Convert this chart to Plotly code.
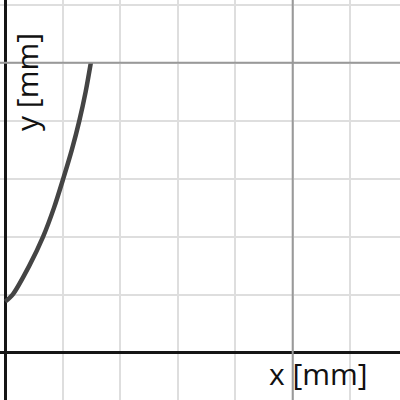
import plotly.graph_objects as go

# curve (mm)
curve_x = [0, 0.13, 0.42, 0.66, 0.85, 1.01, 1.16, 1.29, 1.40, 1.49]
curve_y = [0.88, 1.0, 1.5, 2.0, 2.5, 3.0, 3.5, 4.0, 4.5, 5.0]

# reference lines
ref_x = 5
ref_y = 5

x_range = [-0.09, 6.866]
y_range = [-0.817, 6.08]

fig = go.Figure(go.Scatter(
    x=curve_x, y=curve_y, mode="lines",
    line=dict(color="#444444", width=4.5, shape="spline", smoothing=0.8),
    hoverinfo="skip",
))

fig.add_shape(type="line", xref="x", yref="paper", x0=ref_x, x1=ref_x, y0=0, y1=1,
              line=dict(color="#999999", width=2), layer="above")
fig.add_shape(type="line", xref="paper", yref="y", x0=0, x1=1, y0=ref_y, y1=ref_y,
              line=dict(color="#999999", width=2), layer="above")

axis = dict(showticklabels=False, ticks="", dtick=1, showgrid=True,
            gridcolor="#dedede", gridwidth=1.5, zeroline=True,
            zerolinecolor="#151515", zerolinewidth=3, showline=False, fixedrange=True)

fig.update_xaxes(range=x_range, **axis)
fig.update_yaxes(range=y_range, **axis)

fig.add_annotation(text="x [mm]", xref="paper", yref="paper", x=0.795, y=0.0675,
                   xanchor="center", yanchor="middle", showarrow=False,
                   font=dict(family="Open Sans", size=30, color="#111"))
fig.add_annotation(text="y [mm]", xref="paper", yref="paper", x=0.0675, y=0.795,
                   xanchor="center", yanchor="middle", textangle=-90, showarrow=False,
                   font=dict(family="Open Sans", size=30, color="#111"))

fig.update_layout(width=400, height=400, margin=dict(l=0, r=0, t=0, b=0),
                  plot_bgcolor="white", paper_bgcolor="white", showlegend=False)

fig.write_html("out.html", config={"displayModeBar": False},
               post_script="document.body.style.margin='0';")
